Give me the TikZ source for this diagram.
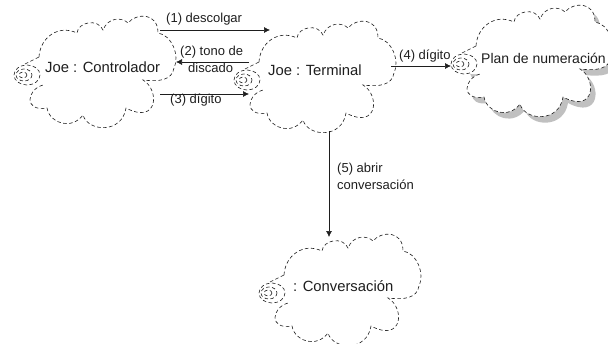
\documentclass[tikz,border=0pt]{standalone}
\usepackage{fontspec}
\setmainfont{Liberation Sans}
\usetikzlibrary{arrows.meta}
\definecolor{inkgray}{HTML}{1E1E1E}
\definecolor{shadowgray}{HTML}{C0C0C0}
\newcommand{\cloudpath}{
  (39,57) .. controls (40,38) and (58,24) .. (77,33)
  .. controls (78,22) and (98,18) .. (103,30)
  .. controls (108,17) and (122,17) .. (128,23)
  .. controls (136,13) and (158,12) .. (158,33)
  .. controls (172,35) and (180,56) .. (174,68)
  .. controls (172,80) and (160,82) .. (143,80)
  .. controls (160,90) and (158,125) .. (126,108)
  .. controls (122,134) and (88,132) .. (83,115)
  .. controls (72,130) and (50,124) .. (47,108)
  .. controls (24,112) and (26,90) .. (43,85)
  .. controls (36,85) and (30,88) .. (27,75)
  .. controls (28,66) and (34,60) .. (39,57) -- cycle
}
\newcommand{\cloudstroke}{
  \draw[cloudline] (39,57) .. controls (40,38) and (58,24) .. (77,33)
  .. controls (78,22) and (98,18) .. (103,30)
  .. controls (108,17) and (122,17) .. (128,23)
  .. controls (136,13) and (158,12) .. (158,33)
  .. controls (172,35) and (180,56) .. (174,68)
  .. controls (172,80) and (160,82) .. (143,80)
  .. controls (160,90) and (158,125) .. (126,108)
  .. controls (122,134) and (88,132) .. (83,115)
  .. controls (72,130) and (50,124) .. (47,108)
  .. controls (24,112) and (26,90) .. (43,85);
  \draw[cloudline] (25,64) -- (39,57);
  \draw[cloudline] (27,75) ellipse [x radius=13, y radius=10];
  \draw[cloudline] (24,75) ellipse [x radius=8, y radius=6];
  \draw[cloudline] (23,75) ellipse [x radius=4, y radius=3];
}
\tikzset{
  x=1pt,y=-1pt,
  cloudline/.style={line width=0.6pt,dash pattern=on 3.5pt off 2.5pt,inkgray},
  objname/.style={font=\fontsize{14.8}{16}\selectfont,text=inkgray,inner sep=0pt,anchor=west},
  msglabel/.style={font=\fontsize{13}{15.5}\selectfont,text=inkgray,inner sep=0pt},
  msgarrow/.style={line width=0.6pt,inkgray,-{Latex[length=6pt,width=6pt]}}
}
\begin{document}
\begin{tikzpicture}
\useasboundingbox (0,0) rectangle (608,343);
% Plan de numeracion (with shadow)
\begin{scope}[shift={(437,-11)}]
  \fill[shadowgray,shift={(5,6)}] \cloudpath;
  \fill[white] \cloudpath;
  \cloudstroke
\end{scope}
% the other clouds
\begin{scope}[shift={(220,5)}]
  \fill[white] \cloudpath;
  \cloudstroke
\end{scope}
\begin{scope}
  \fill[white] \cloudpath;
  \cloudstroke
\end{scope}
\begin{scope}[shift={(245,218)}]
  \fill[white] \cloudpath;
  \cloudstroke
\end{scope}
% object names
\node[objname] (ctrl) at (45,67) {Joe : Controlador};
\node[objname] (term) at (268,70) {Joe : Terminal};
\node[objname,font=\fontsize{14}{16}\selectfont] (plan) at (481,58) {Plan de numeración};
\node[objname] (conv) at (293,286) {: Conversación};
% connector ends
\coordinate (c1) at (160,30);
\coordinate (t1) at (270,30);
\coordinate (t2) at (249,62);
\coordinate (c2) at (176,62);
\coordinate (c3) at (160,94);
\coordinate (t3) at (249,94);
\coordinate (t4) at (391,66);
\coordinate (p4) at (451,66);
\coordinate (t5) at (329,131);
\coordinate (v5) at (329,237);
\draw[msgarrow] (c1) -- (t1);
\draw[msgarrow] (t2) -- (c2);
\draw[msgarrow] (c3) -- (t3);
\draw[msgarrow] (t4) -- (p4);
\draw[msgarrow] (t5) -- (v5);
% labels
\node[msglabel,anchor=west] (l1) at (166,19) {(1) descolgar};
\node[msglabel,anchor=west] (l2a) at (180,52) {(2) tono de};
\node[msglabel,anchor=west] (l2b) at (188,68) {discado};
\node[msglabel,anchor=west] (l3) at (170,100) {(3) dígito};
\node[msglabel,anchor=west] (l4) at (399,56) {(4) dígito};
\node[msglabel,anchor=west] (l5a) at (337,169) {(5) abrir};
\node[msglabel,anchor=west] (l5b) at (337,185) {conversación};
\end{tikzpicture}
\end{document}
